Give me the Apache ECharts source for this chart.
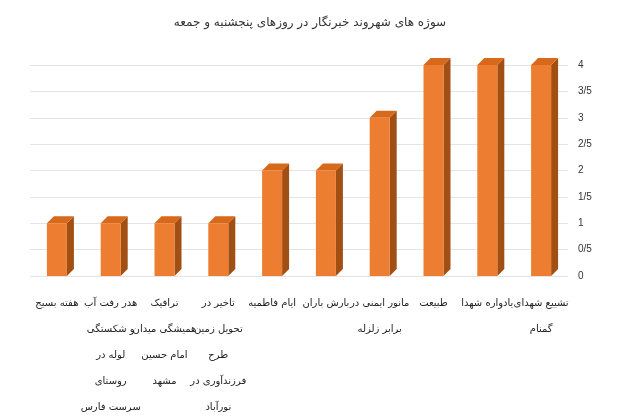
<!DOCTYPE html><html><head><meta charset="utf-8"><script src="https://cdn.jsdelivr.net/npm/echarts@6/dist/echarts.min.js"></script></head><body style="margin:0"><div id="c" style="width:620px;height:420px"></div><script>
const categories=["هفته بسیج","هدر رفت آب\nو شکستگی\nلوله در\nروستای\nسرست فارس","ترافیک\nهمیشگی میدان\nامام حسین\nمشهد","تاخیر در\nتحویل زمین\nطرح\nفرزندآوری در\nنورآباد","ایام فاطمیه","بارش باران","مانور ایمنی در\nبرابر زلزله","طبیعت","یادواره شهدا","تشییع شهدای\nگمنام"];
const values=[1,1,1,1,2,2,3,4,4,4];
const tickLabels={0:"0",0.5:"0/5",1:"1",1.5:"1/5",2:"2",2.5:"2/5",3:"3",3.5:"3/5",4:"4"};
const ch=echarts.init(document.getElementById('c'));
ch.setOption({
title:{text:"سوژه های شهروند خبرنگار در روزهای پنجشنبه و جمعه",left:'center',top:12,textStyle:{fontFamily:'DejaVu Sans',fontSize:12,fontWeight:'normal',color:'#333'}},
grid:{left:30,right:52,top:65,bottom:142},
xAxis:{type:'category',data:categories,axisLine:{show:false},axisTick:{show:false},axisLabel:{interval:0,fontSize:10,lineHeight:26,color:'#222',fontFamily:'DejaVu Sans',margin:14}},
yAxis:{type:'value',position:'right',min:0,max:4,interval:0.5,axisLabel:{fontSize:10,color:'#333',formatter:v=>tickLabels[v]??v,margin:10},splitLine:{lineStyle:{color:'#e4e4e4'}},axisLine:{show:false}},
series:[{type:'custom',data:values,renderItem:(p,api)=>{
 const x=api.value(0),v=api.value(1);
 const top=api.coord([x,v]),bot=api.coord([x,0]);
 const w=20,d=7,cx=top[0];
 const l=cx-w/2,r=cx+w/2;
 return {type:'group',children:[
  {type:'polygon',shape:{points:[[r,top[1]],[r+d,top[1]-d],[r+d,bot[1]-d],[r,bot[1]]]},style:{fill:'#a14f12'}},
  {type:'polygon',shape:{points:[[l,top[1]],[l+d,top[1]-d],[r+d,top[1]-d],[r,top[1]]]},style:{fill:'#d9691a'}},
  {type:'rect',shape:{x:l,y:top[1],width:w,height:bot[1]-top[1]},style:{fill:'#ed7d31'}}
 ]};
}}]
});
</script></body></html>
